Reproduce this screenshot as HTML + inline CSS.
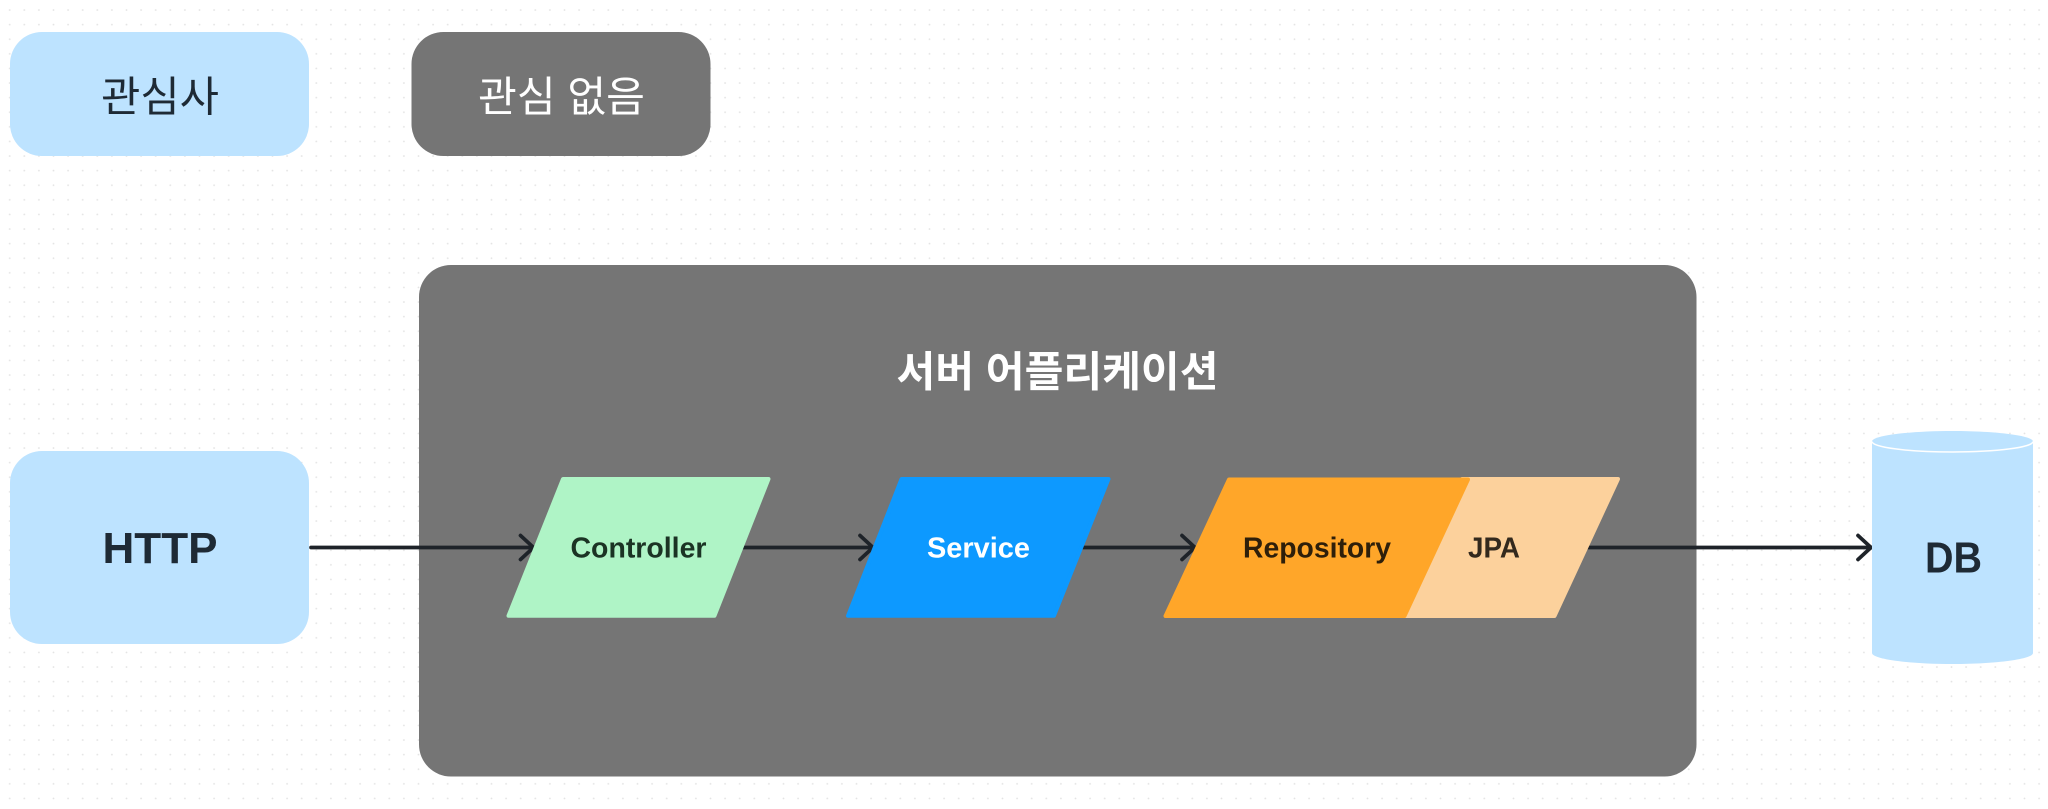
<!DOCTYPE html>
<html lang="ko">
<head>
<meta charset="utf-8">
<title>서버 어플리케이션</title>
<style>
html,body{margin:0;padding:0;background:#fff;width:2048px;height:809px;overflow:hidden}
svg{display:block}
text{font-family:"Liberation Sans","Noto Sans CJK KR",sans-serif}
.ko{font-family:"Liberation Sans","Noto Sans CJK KR","NanumGothic",sans-serif}
.b{font-weight:700}
</style>
</head>
<body>
<svg xmlns="http://www.w3.org/2000/svg" width="2048" height="809" viewBox="0 0 2048 809">
  <defs>
    <pattern id="dots" patternUnits="userSpaceOnUse" x="2.4" y="2.7" width="14.6" height="14.6">
      <circle cx="7.3" cy="7.3" r="0.9" fill="#e3e3e3"/>
    </pattern>
  </defs>
  <rect x="2.4" y="2.7" width="2045.6" height="803" fill="url(#dots)"/>

  <rect x="10" y="32" width="299" height="124" rx="32" fill="#bde3ff"/>
  <text class="ko" x="101" y="111.5" font-size="42" fill="#1e2a35" textLength="118" lengthAdjust="spacingAndGlyphs">관심사</text>

  <rect x="411.5" y="32" width="299" height="124" rx="32" fill="#757575"/>
  <text class="ko" x="478" y="111.5" font-size="42" fill="#ffffff" textLength="167" lengthAdjust="spacingAndGlyphs">관심 없음</text>

  <rect x="419" y="265" width="1277.5" height="511.5" rx="32" fill="#757575"/>
  <text class="ko b" x="896.5" y="386.5" font-size="42" fill="#ffffff" textLength="322" lengthAdjust="spacingAndGlyphs">서버 어플리케이션</text>

  <rect x="10" y="451" width="299" height="193" rx="32" fill="#bde3ff"/>
  <text class="b" x="102.5" y="563" font-size="44" fill="#1e2a35" textLength="115" lengthAdjust="spacingAndGlyphs">HTTP</text>

  <!-- connectors -->
  <g fill="none" stroke="#1e2329" stroke-width="3.7" stroke-linecap="round" stroke-linejoin="round">
    <path d="M311 547.5H533"/>
    <path d="M520.5 535.5L533.5 547.5L520.5 559.5"/>
    <path d="M743 547.5H873"/>
    <path d="M860 535.5L873 547.5L860 559.5"/>
    <path d="M1083 547.5H1195"/>
    <path d="M1182 535.5L1195 547.5L1182 559.5"/>
    <path d="M1588 547.5H1871"/>
    <path d="M1858 535.5L1871 547.5L1858 559.5"/>
  </g>

  <!-- Controller -->
  <path d="M563 479H768.5L714.5 615.8H508.5Z" fill="#aff4c6" stroke="#aff4c6" stroke-width="4" stroke-linejoin="round"/>
  <text class="b" x="570.5" y="557.7" font-size="29" fill="#1b3324" textLength="136" lengthAdjust="spacingAndGlyphs">Controller</text>

  <!-- Service -->
  <path d="M901.5 479H1108.5L1054 615.8H848Z" fill="#0d99ff" stroke="#0d99ff" stroke-width="4" stroke-linejoin="round"/>
  <text class="b" x="927" y="557.7" font-size="29" fill="#ffffff" textLength="103" lengthAdjust="spacingAndGlyphs">Service</text>

  <!-- JPA -->
  <path d="M1462 479H1618L1554.5 616H1400Z" fill="#fcd19c" stroke="#fcd19c" stroke-width="4" stroke-linejoin="round"/>
  <text class="b" x="1468" y="557.7" font-size="29" fill="#33291d" textLength="52" lengthAdjust="spacingAndGlyphs">JPA</text>

  <!-- Repository -->
  <path d="M1229 479.5H1468L1404.5 616H1165.5Z" fill="#ffa629" stroke="#ffa629" stroke-width="4" stroke-linejoin="round"/>
  <text class="b" x="1243" y="557.7" font-size="29" fill="#2e1f0a" textLength="148" lengthAdjust="spacingAndGlyphs">Repository</text>

  <!-- DB -->
  <path d="M1872 441.5C1872 435.7 1908 431 1952.5 431S2033 435.7 2033 441.5V653C2033 659 1997 664 1952.5 664S1872 659 1872 653Z" fill="#bde3ff"/>
  <path d="M1872 441.5C1872 447.3 1908 452 1952.5 452S2033 447.3 2033 441.5" fill="none" stroke="#ffffff" stroke-width="1.5"/>
  <text class="b" x="1925" y="572.7" font-size="44" fill="#1e2a35" textLength="57" lengthAdjust="spacingAndGlyphs">DB</text>
</svg>
</body>
</html>
